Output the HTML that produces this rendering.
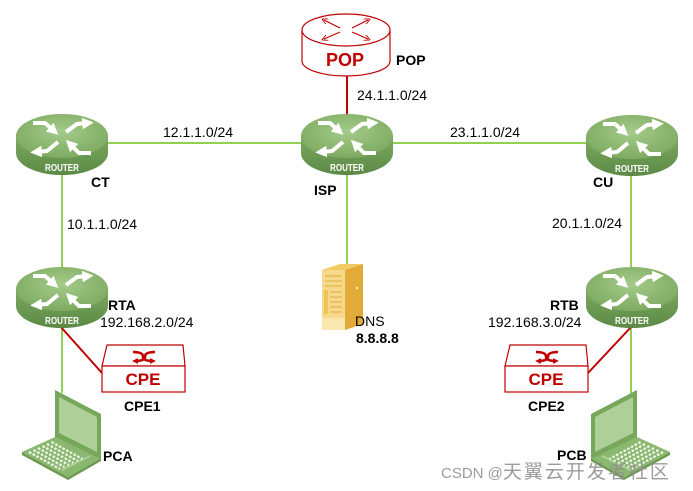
<!DOCTYPE html>
<html><head><meta charset="utf-8"><style>
html,body{margin:0;padding:0;background:#fff;}
svg{display:block;font-family:"Liberation Sans",Arial,sans-serif;}
.ip{font-size:14px;fill:#000;}
.lb{font-size:14px;font-weight:bold;fill:#000;}
.rt{font-size:10px;font-weight:bold;fill:#fff;}
</style></head><body>
<svg width="693" height="491" viewBox="0 0 693 491" xmlns="http://www.w3.org/2000/svg">
<defs>
 <radialGradient id="gtop" cx="50%" cy="40%" r="60%">
  <stop offset="0" stop-color="#a4cb8a"/><stop offset="1" stop-color="#7daa60"/>
 </radialGradient>
 <linearGradient id="gside" x1="0" y1="0" x2="0" y2="1">
  <stop offset="0" stop-color="#7aa95e"/><stop offset="1" stop-color="#5c8a46"/>
 </linearGradient>
 <marker id="ah" viewBox="0 0 10 10" refX="5" refY="5" markerWidth="2.9" markerHeight="2.9" orient="auto">
  <path d="M0,0 L10,5 L0,10 z" fill="#fff"/>
 </marker>
 <marker id="rh" viewBox="0 0 10 10" refX="6" refY="5" markerWidth="5" markerHeight="5" orient="auto">
  <path d="M0,0 L10,5 L0,10" fill="none" stroke="#c00000" stroke-width="1.5"/>
 </marker>
 <marker id="ch" viewBox="0 0 10 10" refX="5" refY="5" markerWidth="2.2" markerHeight="2.2" orient="auto">
  <path d="M0,0 L10,5 L0,10 z" fill="#c00000"/>
 </marker>
</defs>

<!-- connectors -->
<g stroke="#92d050" stroke-width="2" fill="none">
 <line x1="62" y1="143" x2="632" y2="143"/>
 <line x1="62" y1="150" x2="62" y2="290"/>
 <line x1="631" y1="150" x2="631" y2="290"/>
 <line x1="347" y1="150" x2="347" y2="267"/>
 <line x1="62" y1="300" x2="62" y2="393"/>
 <line x1="631" y1="300" x2="631" y2="393"/>
</g>
<g stroke="#c00000" stroke-width="2" fill="none">
 <line x1="347" y1="70" x2="347" y2="120"/>
 <line x1="60" y1="326" x2="102" y2="373"/>
 <line x1="588" y1="373" x2="632" y2="326"/>
</g>

<!-- POP -->
<g stroke="#c00000" stroke-width="1.2">
 <path d="M302,30 L302,61 A44,15 0 0 0 390,61 L390,30" fill="#fff"/>
 <ellipse cx="346" cy="30" rx="44" ry="16" fill="#fff"/>
 <g fill="none" stroke-width="1.2" marker-end="url(#rh)">
  <line x1="340" y1="28" x2="324" y2="20"/>
  <line x1="352" y1="28" x2="368" y2="20"/>
  <line x1="340" y1="32" x2="324" y2="39"/>
  <line x1="352" y1="32" x2="368" y2="39"/>
 </g>
</g>
<text x="345" y="66" text-anchor="middle" style="font-size:18px;font-weight:bold;fill:#c00000">POP</text>

<!-- routers -->
<g transform="translate(16,113)">
 <path d="M0,23 L0,40 A46,22 0 0 0 92,40 L92,23 Z" fill="url(#gside)"/>
 <ellipse cx="46" cy="23" rx="46" ry="22" fill="url(#gtop)"/>
 <g stroke="#fff" stroke-width="4" fill="none" marker-end="url(#ah)">
  <path d="M17,10 L29,10 L38,18"/>
  <path d="M50,19 L61,11 L72,10"/>
  <path d="M42,29 L31,38 L20,39"/>
  <path d="M75,40 L63,40 L54,31"/>
 </g>
 <text class="rt" x="46" y="58" text-anchor="middle" textLength="34" lengthAdjust="spacingAndGlyphs">ROUTER</text>
</g>
<g transform="translate(301,113)">
 <path d="M0,23 L0,40 A46,22 0 0 0 92,40 L92,23 Z" fill="url(#gside)"/>
 <ellipse cx="46" cy="23" rx="46" ry="22" fill="url(#gtop)"/>
 <g stroke="#fff" stroke-width="4" fill="none" marker-end="url(#ah)">
  <path d="M17,10 L29,10 L38,18"/>
  <path d="M50,19 L61,11 L72,10"/>
  <path d="M42,29 L31,38 L20,39"/>
  <path d="M75,40 L63,40 L54,31"/>
 </g>
 <text class="rt" x="46" y="58" text-anchor="middle" textLength="34" lengthAdjust="spacingAndGlyphs">ROUTER</text>
</g>
<g transform="translate(586,114)">
 <path d="M0,23 L0,40 A46,22 0 0 0 92,40 L92,23 Z" fill="url(#gside)"/>
 <ellipse cx="46" cy="23" rx="46" ry="22" fill="url(#gtop)"/>
 <g stroke="#fff" stroke-width="4" fill="none" marker-end="url(#ah)">
  <path d="M17,10 L29,10 L38,18"/>
  <path d="M50,19 L61,11 L72,10"/>
  <path d="M42,29 L31,38 L20,39"/>
  <path d="M75,40 L63,40 L54,31"/>
 </g>
 <text class="rt" x="46" y="58" text-anchor="middle" textLength="34" lengthAdjust="spacingAndGlyphs">ROUTER</text>
</g>
<g transform="translate(16,266)">
 <path d="M0,23 L0,40 A46,22 0 0 0 92,40 L92,23 Z" fill="url(#gside)"/>
 <ellipse cx="46" cy="23" rx="46" ry="22" fill="url(#gtop)"/>
 <g stroke="#fff" stroke-width="4" fill="none" marker-end="url(#ah)">
  <path d="M17,10 L29,10 L38,18"/>
  <path d="M50,19 L61,11 L72,10"/>
  <path d="M42,29 L31,38 L20,39"/>
  <path d="M75,40 L63,40 L54,31"/>
 </g>
 <text class="rt" x="46" y="58" text-anchor="middle" textLength="34" lengthAdjust="spacingAndGlyphs">ROUTER</text>
</g>
<g transform="translate(586,266)">
 <path d="M0,23 L0,40 A46,22 0 0 0 92,40 L92,23 Z" fill="url(#gside)"/>
 <ellipse cx="46" cy="23" rx="46" ry="22" fill="url(#gtop)"/>
 <g stroke="#fff" stroke-width="4" fill="none" marker-end="url(#ah)">
  <path d="M17,10 L29,10 L38,18"/>
  <path d="M50,19 L61,11 L72,10"/>
  <path d="M42,29 L31,38 L20,39"/>
  <path d="M75,40 L63,40 L54,31"/>
 </g>
 <text class="rt" x="46" y="58" text-anchor="middle" textLength="34" lengthAdjust="spacingAndGlyphs">ROUTER</text>
</g>

<!-- DNS server -->
<g>
 <polygon points="322,270 340,264 363,264 345,270" fill="#f2cc63"/>
 <polygon points="345,270 363,264 363,324 345,330" fill="#e2aa36"/>
 <rect x="322" y="270" width="23" height="60" fill="#f6d98a"/>
 <g stroke="#e6b548" stroke-width="1.2">
  <line x1="325" y1="276" x2="342" y2="276"/>
  <line x1="325" y1="281" x2="342" y2="281"/>
  <line x1="325" y1="286" x2="342" y2="286"/>
  <line x1="330" y1="292" x2="342" y2="292"/>
  <line x1="330" y1="297" x2="342" y2="297"/>
  <line x1="330" y1="302" x2="342" y2="302"/>
  <line x1="330" y1="307" x2="342" y2="307"/>
  <line x1="330" y1="312" x2="342" y2="312"/>
 </g>
 <rect x="324" y="290" width="4" height="24" fill="#eec35a"/>
 <rect x="322" y="318" width="23" height="12" fill="#fbe7b0"/>
 <circle cx="357" cy="288" r="1.2" fill="#fff3c8"/>
</g>

<!-- CPE1 -->
<g stroke="#c00000" stroke-width="1.2" fill="#fff">
 <path d="M107,345 L183,345 L185,366 L102,366 Z"/>
 <rect x="102" y="366" width="83" height="26"/>
</g>
<g stroke="#c00000" stroke-width="2.6" fill="none" marker-end="url(#ch)">
 <path d="M133,352 Q143,352 143,356.5 Q143,361 153,361"/>
 <path d="M155,352 Q145,352 145,356.5 Q145,361 135,361"/>
</g>
<text x="143" y="385" text-anchor="middle" style="font-size:17px;font-weight:bold;fill:#c00000">CPE</text>

<!-- CPE2 -->
<g stroke="#c00000" stroke-width="1.2" fill="#fff">
 <path d="M510,345 L586,345 L588,366 L505,366 Z"/>
 <rect x="505" y="366" width="83" height="26"/>
</g>
<g stroke="#c00000" stroke-width="2.6" fill="none" marker-end="url(#ch)">
 <path d="M536,352 Q546,352 546,356.5 Q546,361 556,361"/>
 <path d="M558,352 Q548,352 548,356.5 Q548,361 538,361"/>
</g>
<text x="546" y="385" text-anchor="middle" style="font-size:17px;font-weight:bold;fill:#c00000">CPE</text>

<!-- Laptop PCA -->
<g>
 <polygon points="22,452 22,455 68,480 101,461 101,458 68,477" fill="#6c9a51"/>
 <polygon points="22,452 55,437 101,458 68,477" fill="#8ab86e"/>
 <g stroke="#f2f7ee" stroke-width="2.2" stroke-dasharray="2.6 1.6">
  <line x1="29" y1="452" x2="60" y2="469"/>
  <line x1="33.5" y1="450" x2="64.5" y2="467"/>
  <line x1="38" y1="448" x2="69" y2="465"/>
  <line x1="42.5" y1="446" x2="73.5" y2="463"/>
  <line x1="47" y1="444" x2="78" y2="461"/>
  <line x1="51.5" y1="442" x2="82.5" y2="459"/>
 </g>
 <line x1="62" y1="470" x2="90" y2="456" stroke="#b9d7a6" stroke-width="1.5"/>
 <polygon points="55,390 101,414 101,459 55,437" fill="#76a75a"/>
 <polygon points="59,397 97,417 97,452 59,433" fill="#aecf98"/>
</g>
<!-- Laptop PCB (mirrored) -->
<g transform="translate(692,0) scale(-1,1)">
 <polygon points="22,452 22,455 68,480 101,461 101,458 68,477" fill="#6c9a51"/>
 <polygon points="22,452 55,437 101,458 68,477" fill="#8ab86e"/>
 <g stroke="#f2f7ee" stroke-width="2.2" stroke-dasharray="2.6 1.6">
  <line x1="29" y1="452" x2="60" y2="469"/>
  <line x1="33.5" y1="450" x2="64.5" y2="467"/>
  <line x1="38" y1="448" x2="69" y2="465"/>
  <line x1="42.5" y1="446" x2="73.5" y2="463"/>
  <line x1="47" y1="444" x2="78" y2="461"/>
  <line x1="51.5" y1="442" x2="82.5" y2="459"/>
 </g>
 <line x1="62" y1="470" x2="90" y2="456" stroke="#b9d7a6" stroke-width="1.5"/>
 <polygon points="55,390 101,414 101,459 55,437" fill="#76a75a"/>
 <polygon points="59,397 97,417 97,452 59,433" fill="#aecf98"/>
</g>

<!-- labels -->
<text class="ip" x="163" y="137">12.1.1.0/24</text>
<text class="ip" x="450" y="137">23.1.1.0/24</text>
<text class="ip" x="357" y="100">24.1.1.0/24</text>
<text class="ip" x="67" y="229">10.1.1.0/24</text>
<text class="ip" x="552" y="228">20.1.1.0/24</text>
<text class="ip" x="100" y="327">192.168.2.0/24</text>
<text class="ip" x="488" y="327">192.168.3.0/24</text>
<text class="ip" x="355" y="326">DNS</text>
<text class="lb" x="356" y="343">8.8.8.8</text>
<text class="lb" x="396" y="65">POP</text>
<text class="lb" x="91" y="187">CT</text>
<text class="lb" x="314" y="195">ISP</text>
<text class="lb" x="593" y="187">CU</text>
<text class="lb" x="108" y="310">RTA</text>
<text class="lb" x="550" y="310">RTB</text>
<text class="lb" x="124" y="411">CPE1</text>
<text class="lb" x="528" y="411">CPE2</text>
<text class="lb" x="103" y="461">PCA</text>
<text class="lb" x="557" y="460">PCB</text>

<!-- watermark -->
<text x="441" y="478" style="font-family:'Liberation Sans','Noto Sans CJK SC',sans-serif;fill:#909090;fill-opacity:0.9"><tspan style="font-size:15px">CSDN @</tspan><tspan style="font-size:19px;letter-spacing:2px">天翼云开发者社区</tspan></text>
</svg>
</body></html>
